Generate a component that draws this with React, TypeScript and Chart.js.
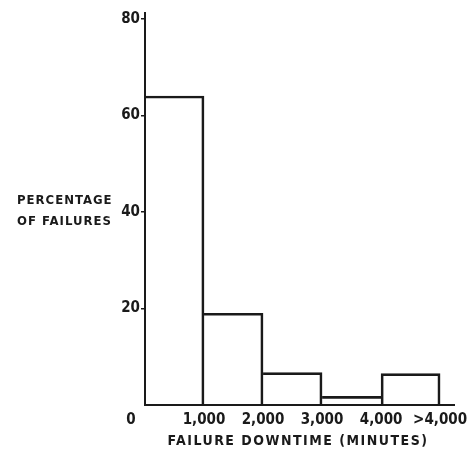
import React, { useEffect, useRef } from "react";
import { Chart, registerables } from "chart.js";

Chart.register(...registerables);

// Downtime bins (minutes) and share of failures in each bin
const binStarts = [0, 1000, 2000, 3000, 4000];
const binWidth = 1000;
const failurePercent = [64, 19, 6.7, 1.8, 6.5];

// Axis ticks
const xTickValues = [0, 1000, 2000, 3000, 4000, 5000];
const xTickLabels = ["0\u2007\u2007\u2007", "1,000", "2,000", "3,000", "4,000", ">4,000"];
const yTickValues = [0, 20, 40, 60, 80];

const yTitleLines = ["PERCENTAGE", "OF FAILURES"];
const xTitle = "FAILURE DOWNTIME (MINUTES)";

const FONT = "'Liberation Sans Narrow', 'DejaVu Sans Condensed', 'DejaVu Sans', sans-serif";
const INK = "#1a1a1a";
const LINE = 2;

// Histogram outline: each shared edge is drawn once, by the taller neighbour.
function binBorder(i: number) {
  const h = failurePercent[i];
  const last = failurePercent.length - 1;
  const left = i > 0 && h > failurePercent[i - 1] ? LINE : 0;
  const right = i === last || h >= failurePercent[i + 1] ? LINE : 0;
  return { top: LINE, left, right, bottom: 0 };
}

const titlePlugin = {
  id: "axisTitles",
  afterDraw(chart: any) {
    const ctx = chart.ctx as CanvasRenderingContext2D;
    ctx.save();
    ctx.fillStyle = INK;
    ctx.font = `bold 13px ${FONT}`;
    (ctx as any).letterSpacing = "1px";
    ctx.textAlign = "left";
    ctx.textBaseline = "middle";
    ctx.fillText(yTitleLines[0], 17, 201);
    ctx.fillText(yTitleLines[1], 17, 222);
    (ctx as any).letterSpacing = "1.5px";
    ctx.textAlign = "center";
    ctx.font = `bold 14px ${FONT}`;
    ctx.fillText(xTitle, 298, 441);
    ctx.restore();
  },
};

export default function App() {
  const canvasRef = useRef<HTMLCanvasElement | null>(null);

  useEffect(() => {
    if (!canvasRef.current) return;
    const chart = new Chart(canvasRef.current, {
      type: "bar",
      data: {
        datasets: [
          {
            data: binStarts.map((s, i) => ({ x: s + binWidth / 2, y: failurePercent[i] })),
            backgroundColor: "rgba(255,255,255,0)",
            borderColor: INK,
            borderWidth: (c: any) => binBorder(c.dataIndex),
            borderSkipped: false,
            barPercentage: 1,
            categoryPercentage: 1,
          },
        ],
      },
      options: {
        responsive: false,
        animation: false,
        events: [],
        layout: { padding: { left: 0, right: 19, top: 13, bottom: 0 } },
        plugins: { legend: { display: false }, tooltip: { enabled: false } },
        scales: {
          x: {
            type: "linear",
            offset: false,
            min: 0,
            max: 5250,
            afterBuildTicks: (scale: any) => {
              scale.ticks = xTickValues.map((v) => ({ value: v }));
            },
            afterFit: (scale: any) => {
              scale.height = 49;
            },
            grid: { display: false, drawTicks: false },
            border: { display: true, color: INK, width: 2 },
            ticks: {
              autoSkip: false,
              maxRotation: 0,
              padding: 6,
              color: INK,
              font: { family: FONT, size: 15, weight: "bold" },
              callback: (v: any) => {
                const i = xTickValues.indexOf(Number(v));
                return i >= 0 ? xTickLabels[i] : "";
              },
            },
          },
          y: {
            min: 0,
            max: 81.2,
            afterBuildTicks: (scale: any) => {
              scale.ticks = yTickValues.map((v) => ({ value: v }));
            },
            afterFit: (scale: any) => {
              scale.width = 145;
            },
            grid: {
              display: true,
              drawOnChartArea: false,
              drawTicks: true,
              tickLength: 4,
              color: (c: any) => (c.tick && c.tick.value === 0 ? "rgba(0,0,0,0)" : INK),
              lineWidth: 1.5,
            },
            border: { display: true, color: INK, width: 2 },
            ticks: {
              padding: 1,
              color: INK,
              font: { family: FONT, size: 15, weight: "bold" },
              callback: (v: any) => (Number(v) === 0 ? "" : String(v)),
            },
          },
        },
      },
      plugins: [titlePlugin],
    } as any);
    return () => chart.destroy();
  }, []);

  return (
    <div style={{ position: "fixed", left: 0, top: 0, width: 474, height: 454, background: "#fff" }}>
      <canvas ref={canvasRef} width={474} height={454} style={{ display: "block" }} />
    </div>
  );
}
